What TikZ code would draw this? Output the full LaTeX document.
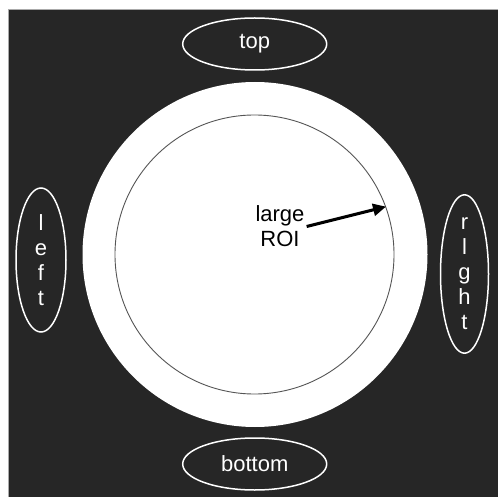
\documentclass[tikz,border=0pt]{standalone}
\usepackage{fontspec}
\setmainfont{Liberation Sans}
\usetikzlibrary{shapes.geometric,arrows.meta}
\definecolor{bgdark}{HTML}{262626}
\definecolor{edgegray}{HTML}{AAAAAA}
\definecolor{ringgray}{HTML}{555555}
\begin{document}
\begin{tikzpicture}[x=1pt,y=-1pt,
  lbl/.style={ellipse,draw=white,line width=1.5pt,text=white,inner sep=0pt,
    font=\fontsize{22}{25}\selectfont,align=center},
  hlbl/.style={lbl,minimum width=144pt,minimum height=52pt},
  vlbl/.style={lbl,minimum width=50pt,minimum height=144pt},
  roiarrow/.style={line width=3pt,-{Triangle[length=13pt,width=12pt]}}]
\useasboundingbox (0,0) rectangle (498,497);
\fill[white] (0,0) rectangle (498,497);
\draw[fill=bgdark,draw=edgegray,line width=0.8pt] (8.5,9.5) rectangle (500,500);
\node[circle,fill=white,minimum size=345pt,inner sep=0pt] (outer) at (255,254.5) {};
\node[circle,draw=ringgray,line width=0.9pt,minimum size=279pt,inner sep=0pt] (inner) at (254.5,254.5) {};
\node[hlbl] (top) at (254.7,44) {top};
\node[hlbl] (bottom) at (254.7,464) {bottom};
\node[vlbl] (left) at (41,260) {l\\e\\f\\t};
\node[vlbl,minimum width=48pt] (right) at (464.5,274) {r\\l\\g\\h\\t};
\node[font=\fontsize{22}{25}\selectfont,align=center,fill=white,inner sep=2pt] (roi) at (280,226.5) {large\\ROI};
\coordinate (tip) at (inner.20);
\draw[roiarrow] (roi.east) -- (tip);
\end{tikzpicture}
\end{document}
